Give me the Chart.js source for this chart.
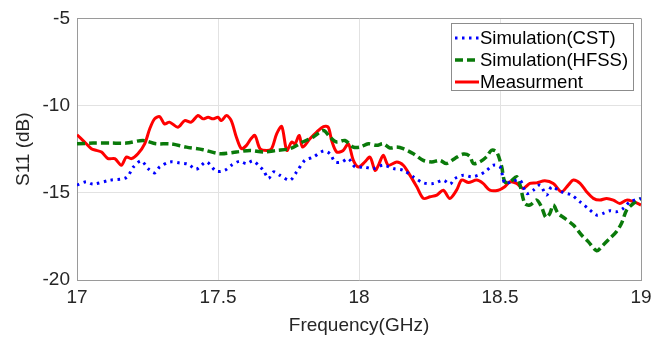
<!DOCTYPE html>
<html lang="en">
  <head>
    <meta charset="utf-8" />
    <title>S11 vs Frequency</title>
    <style>
      * {
        margin: 0;
        padding: 0;
      }
      body {
        background: white;
      }
    </style>
  </head>
  <body>
    <canvas id="myChart" width="654" height="339"></canvas>
    <script type="text/javascript" src="https://cdn.jsdelivr.net/npm/chart.js"></script>
    <script>
      // data (GHz / dB)
      const cstFreq = [
        17.0, 17.033, 17.057, 17.116, 17.175, 17.2, 17.228, 17.252, 17.275, 17.293, 17.33, 17.364, 17.394, 17.423,
        17.459, 17.494, 17.524, 17.548, 17.577, 17.601, 17.624, 17.648, 17.661, 17.679, 17.697, 17.72, 17.755, 17.779,
        17.808, 17.838, 17.874, 17.897, 17.915, 17.939, 17.962, 17.986, 18.016, 18.051, 18.086, 18.122, 18.157, 18.193,
        18.228, 18.264, 18.299, 18.323, 18.34, 18.37, 18.399, 18.423, 18.447, 18.476, 18.5, 18.517, 18.541, 18.571,
        18.594, 18.618, 18.642, 18.665, 18.683, 18.707, 18.724, 18.754, 18.783, 18.813, 18.843, 18.866, 18.89, 18.913,
        18.937, 18.961, 19.0,
      ];
      const cstS11 = [
        -14.56, -14.37, -14.5, -14.28, -14.13, -13.52, -13.17, -13.61, -13.86, -13.52, -13.23, -13.29, -13.36, -13.65,
        -13.23, -13.76, -13.71, -13.42, -13.19, -13.33, -13.17, -13.5, -13.71, -14.18, -13.8, -14.0, -14.28, -13.8,
        -13.14, -12.95, -12.6, -12.76, -13.23, -13.23, -13.04, -13.52, -13.52, -13.61, -13.42, -13.61, -13.71, -14.09,
        -14.43, -14.47, -14.28, -14.5, -14.18, -13.99, -14.08, -13.99, -13.8, -13.42, -13.51, -14.46, -14.37, -14.27,
        -15.04, -14.85, -14.56, -15.13, -14.65, -14.85, -14.98, -15.13, -15.51, -15.9, -16.28, -16.18, -16.03, -16.09,
        -15.9, -15.51, -15.32,
      ];

      const hfssFreq = [
        17.0, 17.057, 17.12, 17.175, 17.234, 17.28, 17.33, 17.388, 17.447, 17.506, 17.565, 17.614, 17.661, 17.708,
        17.755, 17.8, 17.838, 17.874, 17.897, 17.921, 17.95, 17.98, 18.004, 18.033, 18.063, 18.086, 18.11, 18.134,
        18.157, 18.193, 18.228, 18.258, 18.287, 18.31, 18.34, 18.37, 18.393, 18.405, 18.429, 18.452, 18.47, 18.488,
        18.506, 18.517, 18.535, 18.559, 18.571, 18.588, 18.606, 18.63, 18.647, 18.663, 18.677, 18.689, 18.706, 18.73,
        18.76, 18.789, 18.813, 18.843, 18.866, 18.89, 18.913, 18.931, 18.949, 18.973, 19.0,
      ];
      const hfssS11 = [
        -12.19, -12.15, -12.15, -12.15, -12.0, -12.19, -12.19, -12.38, -12.53, -12.76, -12.66, -12.57, -12.66, -12.57,
        -12.47, -12.09, -11.8, -11.43, -11.8, -12.09, -12.0, -12.38, -12.38, -12.19, -12.28, -12.19, -12.43, -12.38,
        -12.47, -12.76, -13.14, -13.23, -13.14, -13.32, -13.03, -12.78, -12.9, -13.32, -13.22, -12.94, -12.56, -12.65,
        -13.51, -14.37, -14.37, -14.08, -14.56, -15.61, -15.7, -15.42, -15.8, -16.41, -16.18, -15.7, -16.18, -16.47,
        -16.85, -17.42, -17.8, -18.32, -17.99, -17.61, -17.23, -16.75, -15.99, -15.61, -15.32,
      ];

      const measFreq = [
        17.0, 17.027, 17.051, 17.069, 17.087, 17.11, 17.134, 17.157, 17.175, 17.193, 17.216, 17.24, 17.258, 17.275,
        17.293, 17.31, 17.328, 17.358, 17.382, 17.405, 17.429, 17.447, 17.465, 17.482, 17.5, 17.512, 17.53, 17.547,
        17.565, 17.583, 17.601, 17.617, 17.631, 17.649, 17.673, 17.69, 17.708, 17.726, 17.744, 17.761, 17.773, 17.788,
        17.8, 17.826, 17.85, 17.874, 17.891, 17.903, 17.921, 17.944, 17.962, 17.98, 17.998, 18.021, 18.039, 18.057,
        18.069, 18.086, 18.104, 18.134, 18.157, 18.181, 18.205, 18.228, 18.252, 18.276, 18.299, 18.322, 18.346, 18.364,
        18.388, 18.417, 18.44, 18.464, 18.494, 18.517, 18.535, 18.559, 18.582, 18.606, 18.63, 18.659, 18.689, 18.718,
        18.742, 18.76, 18.784, 18.807, 18.831, 18.854, 18.878, 18.902, 18.925, 18.949, 18.973, 19.0,
      ];
      const measS11 = [
        -11.67, -12.09, -12.47, -12.57, -12.66, -13.04, -13.04, -13.42, -12.95, -13.04, -12.76, -12.19, -11.33, -10.76,
        -10.63, -11.05, -10.95, -11.24, -10.86, -10.95, -10.57, -10.76, -10.67, -10.76, -10.67, -10.86, -10.57, -10.86,
        -11.8, -12.47, -12.28, -11.9, -11.71, -12.47, -12.57, -12.47, -11.62, -11.2, -12.57, -12.09, -12.19, -11.71,
        -12.38, -11.9, -11.52, -11.2, -11.24, -12.0, -12.66, -12.57, -12.19, -13.14, -13.52, -13.23, -12.95, -13.71,
        -13.42, -12.85, -13.42, -13.23, -13.42, -14.0, -14.66, -15.32, -15.23, -15.13, -14.85, -15.32, -14.85, -14.27,
        -14.41, -14.27, -14.46, -14.85, -14.85, -14.65, -14.37, -14.46, -14.75, -14.46, -14.43, -14.31, -14.46, -14.94,
        -14.56, -14.27, -14.46, -14.94, -15.32, -15.42, -15.32, -15.42, -15.61, -15.42, -15.51, -15.7,
      ];

      const seriesNames = ['Simulation(CST)', 'Simulation(HFSS)', 'Measurment'];
      const xTicks = [17, 17.5, 18, 18.5, 19];
      const yTicks = [-20, -15, -10, -5];

      const toPoints = (xs, ys) => xs.map((x, i) => ({ x: x, y: ys[i] }));

      const FONT = 'Liberation Sans, Arial, sans-serif';
      const AXIS_COLOR = '#9a9a9a';
      const GRID_COLOR = '#e2e2e2';

      const data = {
        datasets: [
          {
            label: seriesNames[0],
            data: toPoints(cstFreq, cstS11),
            borderColor: '#0000ff',
            borderWidth: 3,
            borderDash: [2.5, 4.5],
            borderCapStyle: 'butt',
          },
          {
            label: seriesNames[1],
            data: toPoints(hfssFreq, hfssS11),
            borderColor: '#0a7a0a',
            borderWidth: 3.5,
            borderDash: [8, 4],
          },
          {
            label: seriesNames[2],
            data: toPoints(measFreq, measS11),
            borderColor: '#ff0000',
            borderWidth: 3,
          },
        ],
      };

      // legend box drawn inside the plot, top right
      const boxLegend = {
        id: 'boxLegend',
        afterDraw(chart) {
          const { ctx } = chart;
          const x0 = 451,
            y0 = 23,
            w = 182,
            h = 67;
          ctx.save();
          ctx.fillStyle = 'white';
          ctx.fillRect(x0, y0, w, h);
          ctx.strokeStyle = '#8c8c8c';
          ctx.lineWidth = 1;
          ctx.strokeRect(x0 + 0.5, y0 + 0.5, w, h);

          chart.data.datasets.forEach((ds, i) => {
            const yc = 38 + i * 22;
            ctx.beginPath();
            ctx.strokeStyle = ds.borderColor;
            ctx.lineWidth = ds.borderWidth;
            ctx.setLineDash(ds.borderDash || []);
            ctx.moveTo(455, yc);
            ctx.lineTo(479, yc);
            ctx.stroke();
            ctx.setLineDash([]);

            ctx.fillStyle = '#000';
            ctx.font = '18.5px ' + FONT;
            ctx.textBaseline = 'middle';
            ctx.textAlign = 'left';
            ctx.fillText(ds.label, 480, yc + 1);
          });
          ctx.restore();
        },
      };

      const config = {
        type: 'line',
        data,
        options: {
          responsive: false,
          animation: false,
          events: [],
          layout: {
            padding: { top: 18, right: 13, left: 0, bottom: 0 },
          },
          elements: {
            point: { radius: 0 },
            line: { tension: 0.3, fill: false },
          },
          plugins: {
            legend: { display: false },
            tooltip: { enabled: false },
          },
          scales: {
            x: {
              type: 'linear',
              min: 17,
              max: 19,
              afterBuildTicks: (scale) => {
                scale.ticks = xTicks.map((v) => ({ value: v }));
              },
              afterFit: (scale) => {
                scale.height = 59;
                scale.paddingRight = 0;
                scale.paddingLeft = 0;
              },
              ticks: {
                color: '#262626',
                font: { family: FONT, size: 19 },
                padding: 6,
                maxRotation: 0,
                callback: (v) => String(v),
              },
              grid: {
                drawTicks: false,
                color: (c) => (c.tick && c.tick.value === 19 ? AXIS_COLOR : GRID_COLOR),
                lineWidth: 1,
              },
              border: { display: true, color: AXIS_COLOR, width: 1 },
              title: {
                display: true,
                text: 'Frequency(GHz)',
                color: '#262626',
                font: { family: FONT, size: 19 },
                padding: { top: 4, bottom: 2 },
              },
            },
            y: {
              type: 'linear',
              min: -20,
              max: -5,
              afterBuildTicks: (scale) => {
                scale.ticks = yTicks.map((v) => ({ value: v }));
              },
              afterFit: (scale) => {
                scale.width = 77;
              },
              ticks: {
                color: '#262626',
                font: { family: FONT, size: 19 },
                padding: 7,
              },
              grid: {
                drawTicks: false,
                color: (c) => (c.tick && c.tick.value === -5 ? AXIS_COLOR : GRID_COLOR),
                lineWidth: 1,
              },
              border: { display: true, color: AXIS_COLOR, width: 1 },
              title: {
                display: true,
                text: 'S11 (dB)',
                color: '#262626',
                font: { family: FONT, size: 19 },
                padding: { top: 12, bottom: 0 },
              },
            },
          },
        },
        plugins: [boxLegend],
      };

      const myChart = new Chart(document.getElementById('myChart'), config);
    </script>
  </body>
</html>
